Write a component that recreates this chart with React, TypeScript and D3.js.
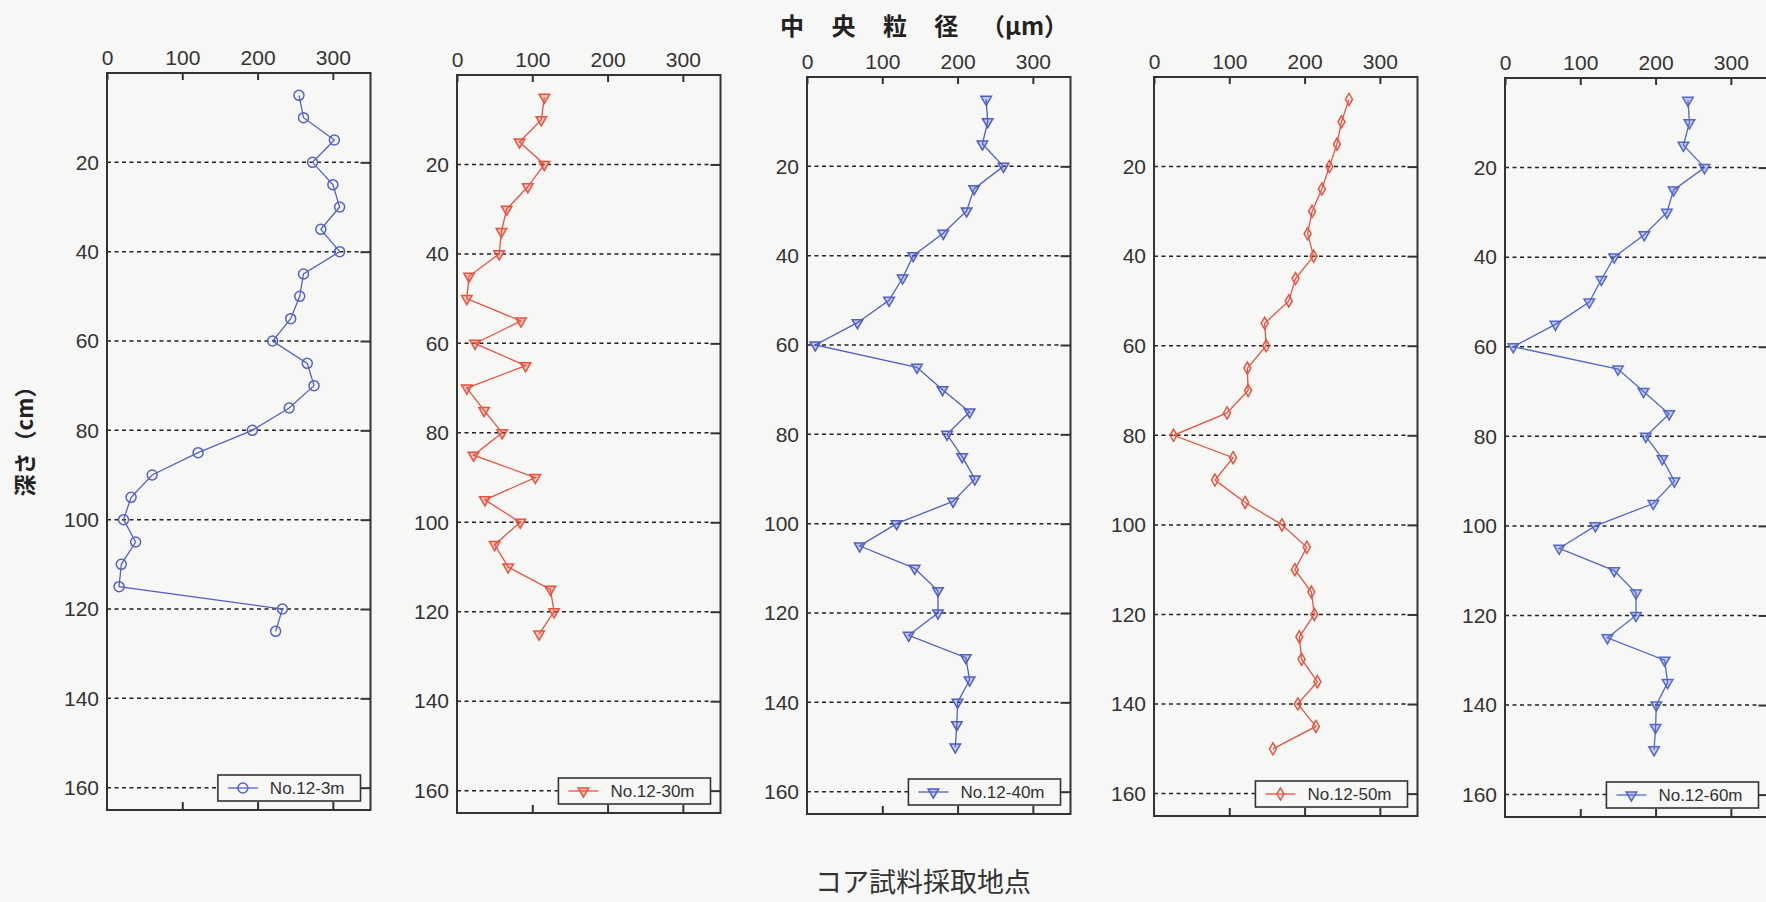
import React, { useEffect, useRef } from "react";
import * as d3 from "d3";

// depth (cm) of each sample
const depthsShort = [5, 10, 15, 20, 25, 30, 35, 40, 45, 50, 55, 60, 65, 70, 75, 80, 85, 90, 95, 100, 105, 110, 115, 120, 125];
const depthsLong = [5, 10, 15, 20, 25, 30, 35, 40, 45, 50, 55, 60, 65, 70, 75, 80, 85, 90, 95, 100, 105, 110, 115, 120, 125, 130, 135, 140, 145, 150];

// median grain size (um)
const no12_3m = [255, 261, 302, 273, 300, 309, 284, 309, 261, 256, 244, 220, 266, 275, 242, 193, 121, 60, 32, 22, 38, 19, 16, 233, 224];
const no12_30m = [116, 112, 83, 116, 94, 66, 59, 56, 16, 13, 85, 24, 91, 13, 36, 60, 22, 104, 37, 84, 50, 68, 124, 129, 109];
const no12_40m = [238, 240, 233, 261, 222, 212, 181, 141, 127, 109, 67, 11, 146, 180, 216, 186, 206, 223, 194, 119, 70, 143, 174, 174, 135, 211, 216, 200, 199, 197];
const no12_50m = [259, 249, 243, 233, 223, 210, 204, 212, 188, 179, 147, 149, 124, 125, 97, 26, 105, 81, 121, 170, 203, 187, 209, 213, 193, 196, 217, 191, 215, 158];
const no12_60m = [243, 245, 237, 265, 224, 215, 185, 145, 128, 112, 67, 11, 150, 184, 218, 187, 209, 225, 197, 120, 72, 145, 174, 174, 136, 212, 216, 201, 200, 198];

const seriesLabels = ["No.12-3m", "No.12-30m", "No.12-40m", "No.12-50m", "No.12-60m"];
const seriesValues = [no12_3m, no12_30m, no12_40m, no12_50m, no12_60m];
const seriesDepths = [depthsShort, depthsShort, depthsLong, depthsLong, depthsLong];
const seriesMarkers = ["circle", "triDown", "triDown", "diamond", "triDown"];
const seriesColors = ["#5262c8", "#e8533f", "#4e60c4", "#e8533f", "#5168c8"];

const xTicks = [0, 100, 200, 300];
const yTicks = [20, 40, 60, 80, 100, 120, 140, 160];

// panel frames (scan is slightly skewed)
const panelLeft = [107, 457, 807, 1154, 1505];
const panelTop = [73, 75, 77, 77, 78];
const panelBottom = [810, 813, 814, 816, 817];
const panelWidth = 263.5;

const numFont = "'Liberation Sans', Arial, sans-serif";
const jpFont = "'Noto Sans CJK JP', sans-serif";
const bg = "#f7f7f5";
const ink = "#333";

const charW = { N: 0.722, o: 0.556, ".": 0.278, "-": 0.333, m: 0.833 };
const textWidth = (s, size) =>
    s.split("").reduce((a, c) => a + (charW[c] || 0.556), 0) * size;

function symbolPath(kind) {
    if (kind === "circle") return d3.symbol(d3.symbolCircle, 78)();
    if (kind === "diamond") return d3.symbol(d3.symbolDiamond, 42)();
    return d3.symbol(d3.symbolTriangle, 48)();
}

function App() {
    const svgRef = useRef();

    useEffect(() => {
        const svg = d3.select(svgRef.current);
        svg.selectAll(".panel").remove();

        seriesValues.forEach((values, i) => {
            const left = panelLeft[i];
            const top = panelTop[i];
            const bottom = panelBottom[i];
            const color = seriesColors[i];
            const x = d3.scaleLinear().domain([0, 350]).range([left, left + panelWidth]);
            const y = d3.scaleLinear().domain([0, 165]).range([top, bottom]);
            const g = svg.append("g").attr("class", "panel");

            // dashed gridlines + short solid ticks at the right edge
            g.selectAll(".grid")
                .data(yTicks)
                .join("line")
                .attr("x1", x(0))
                .attr("x2", x(350) - 10)
                .attr("y1", d => y(d))
                .attr("y2", d => y(d))
                .attr("stroke", "#222")
                .attr("stroke-width", 1.5)
                .attr("stroke-dasharray", "4,3.5");
            g.append("g")
                .attr("transform", `translate(${x(350)},0)`)
                .call(d3.axisRight(y).tickValues(yTicks).tickSize(-10).tickFormat(() => ""))
                .call(a => a.select(".domain").remove())
                .selectAll("line").attr("stroke", ink).attr("stroke-width", 2);

            const topAxis = g.append("g")
                .attr("transform", `translate(0,${top})`)
                .call(d3.axisTop(x).tickValues(xTicks).tickSizeInner(-7).tickSizeOuter(0).tickPadding(8));
            topAxis.select(".domain").remove();
            topAxis.selectAll("line").attr("stroke", ink).attr("stroke-width", 2);
            topAxis.selectAll("text").attr("font-family", numFont).attr("font-size", 21).attr("fill", ink);

            const bottomAxis = g.append("g")
                .attr("transform", `translate(0,${bottom})`)
                .call(d3.axisBottom(x).tickValues([100, 200, 300]).tickSizeInner(-8).tickSizeOuter(0).tickFormat(() => ""));
            bottomAxis.select(".domain").remove();
            bottomAxis.selectAll("line").attr("stroke", ink).attr("stroke-width", 2);

            const leftAxis = g.append("g")
                .attr("transform", `translate(${left},0)`)
                .call(d3.axisLeft(y).tickValues(yTicks).tickSize(0).tickPadding(8));
            leftAxis.select(".domain").remove();
            leftAxis.selectAll("text").attr("font-family", numFont).attr("font-size", 21).attr("fill", ink);

            g.append("rect")
                .attr("x", left).attr("y", top)
                .attr("width", panelWidth).attr("height", bottom - top)
                .attr("fill", "none").attr("stroke", ink).attr("stroke-width", 2);

            const pts = values.map((v, k) => ({ v, d: seriesDepths[i][k] }));
            const line = d3.line().x(p => x(p.v)).y(p => y(p.d));
            g.append("path")
                .attr("d", line(pts))
                .attr("fill", "none")
                .attr("stroke", color)
                .attr("stroke-width", 1.3);

            const marker = symbolPath(seriesMarkers[i]);
            const rot = seriesMarkers[i] === "triDown" ? " rotate(180)" : "";
            g.selectAll(".mk")
                .data(pts)
                .join("path")
                .attr("d", marker)
                .attr("transform", p => `translate(${x(p.v)},${y(p.d)})${rot}`)
                .attr("fill", seriesMarkers[i] === "triDown" ? color : "none")
                .attr("fill-opacity", 0.3)
                .attr("stroke", color)
                .attr("stroke-width", 1.5);

            // legend
            const label = seriesLabels[i];
            const tw = textWidth(label, 17);
            const boxW = tw + 68;
            const boxR = x(350) - 10;
            const boxB = bottom - 9;
            const lg = g.append("g").attr("transform", `translate(${boxR - boxW},${boxB - 26})`);
            lg.append("rect")
                .attr("width", boxW).attr("height", 26)
                .attr("fill", bg).attr("stroke", ink).attr("stroke-width", 1.6);
            lg.append("line")
                .attr("x1", 10).attr("x2", 40).attr("y1", 13).attr("y2", 13)
                .attr("stroke", color).attr("stroke-width", 1.3);
            lg.append("path")
                .attr("d", marker)
                .attr("transform", `translate(25,13)${rot}`)
                .attr("fill", seriesMarkers[i] === "triDown" ? color : "none")
                .attr("fill-opacity", 0.3)
                .attr("stroke", color)
                .attr("stroke-width", 1.5);
            lg.append("text")
                .attr("x", 52).attr("y", 19)
                .attr("font-family", numFont).attr("font-size", 17)
                .attr("fill", ink)
                .text(label);
        });
    }, []);

    return (
        <svg
            ref={svgRef}
            width={1766}
            height={902}
            style={{ position: "absolute", left: 0, top: 0, display: "block" }}
        >
            <rect width={1766} height={902} fill={bg} />
            <text y={35} fontFamily={jpFont} fontSize={24} fontWeight="bold" fill="#222">
                <tspan x={780} letterSpacing={11}>中 央 粒 径</tspan>
                <tspan x={981}>（μm）</tspan>
            </text>
            <text transform="translate(33,436) rotate(-90)" textAnchor="middle"
                fontFamily={jpFont} fontSize={22} fontWeight="bold" fill="#222">
                深さ（cm）
            </text>
            <text x={923} y={892} textAnchor="middle" fontFamily={jpFont} fontSize={27} fill={ink}>
                コア試料採取地点
            </text>
        </svg>
    );
}

export default App;
